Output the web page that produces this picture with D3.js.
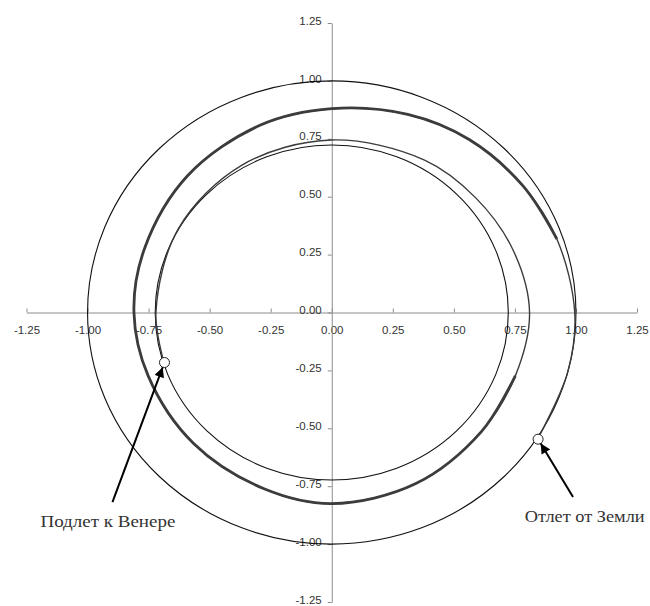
<!DOCTYPE html>
<html><head><meta charset="utf-8">
<script src="https://cdn.jsdelivr.net/npm/d3@7"></script>
<style>body{margin:0;background:#fff}svg{display:block}</style>
</head><body>
<svg id="chart" width="650" height="606"></svg>
<script>
// ---- data ----
const axisTicks = [-1.25, -1.00, -0.75, -0.50, -0.25, 0.00, 0.25, 0.50, 0.75, 1.00, 1.25];
const orbitNames = ["Земля", "Венера"];
const orbitRadii = [1.0, 0.723];
// spacecraft trajectory: polar angle (deg, counter-clockwise) and radius (AU)
const spiralAngles = [-33, -15, 0, 19, 35, 53, 70, 90, 110, 135, 160, 180, 200, 225, 250, 270, 295, 320, 340, 360, 380, 400, 420, 450, 480, 510, 540, 557.5];
const spiralRadii  = [1.005, 1.0, 0.995, 0.975, 0.955, 0.935, 0.91, 0.88, 0.86, 0.835, 0.815, 0.81, 0.80, 0.80, 0.81, 0.825, 0.815, 0.80, 0.80, 0.81, 0.79, 0.77, 0.76, 0.745, 0.735, 0.725, 0.72, 0.72];
const eventNames = ["Отлет от Земли", "Подлет к Венере"];
const eventX = [0.845, -0.685];
const eventY = [-0.547, -0.216];
const arrowTailX = [0.988, -0.898];
const arrowTailY = [-0.797, -0.819];
const labelX = [0.79, -1.193];
const labelY = [-0.905, -0.925];

// ---- scales ----
const svg = d3.select("#chart");
const x = d3.scaleLinear().domain([-1.25, 1.25]).range([26.5, 637]);
const y = d3.scaleLinear().domain([-1.25, 1.25]).range([602, 23]);

svg.append("rect").attr("width", 650).attr("height", 606).attr("fill", "#fff");

// ---- axes ----
const fmt = d => d3.format(".2f")(d).replace("\u2212", "-");
const xAxis = svg.append("g").attr("transform", `translate(0,${y(0)})`)
  .call(d3.axisBottom(x).tickValues(axisTicks).tickFormat(fmt).tickSize(-4).tickSizeOuter(0).tickPadding(13));
const yAxis = svg.append("g").attr("transform", `translate(${x(0)},0)`)
  .call(d3.axisLeft(y).tickValues(axisTicks).tickFormat(fmt).tickSize(4).tickSizeOuter(0).tickPadding(6));
yAxis.selectAll(".tick text").attr("dy", "0.1em");
[xAxis, yAxis].forEach(g => {
  g.select(".domain").attr("stroke", "#8c8c8c");
  g.selectAll(".tick line").attr("stroke", "#8c8c8c");
  g.selectAll(".tick text").attr("fill", "#333")
    .style("font-family", "'Liberation Sans', Arial, sans-serif").style("font-size", "11.5px");
});

// ---- orbits ----
svg.append("g").selectAll("ellipse").data(orbitRadii).join("ellipse")
  .attr("cx", x(0)).attr("cy", y(0))
  .attr("rx", d => x(d) - x(0)).attr("ry", d => y(0) - y(d))
  .attr("fill", "none").attr("stroke", "#111").attr("stroke-width", 1.1);

// ---- trajectory ----
const pts = spiralAngles.map((a, i) => {
  const t = a * Math.PI / 180;
  return [spiralRadii[i] * Math.cos(t), spiralRadii[i] * Math.sin(t), a];
});
const line = d3.line().x(d => x(d[0])).y(d => y(d[1])).curve(d3.curveCatmullRom);
svg.append("path").datum(pts).attr("d", line)
  .attr("fill", "none").attr("stroke", "#3c3c3c").attr("stroke-width", 1.4);
// heavier drawn part of the path
const thick = pts.filter(d => d[2] >= 19 && d[2] <= 340);
svg.append("path").datum(thick).attr("d", line)
  .attr("fill", "none").attr("stroke", "#3c3c3c").attr("stroke-width", 2.8);

// ---- arrows ----
const defs = svg.append("defs");
defs.append("marker").attr("id", "ah").attr("viewBox", "0 0 10 10")
  .attr("refX", 10).attr("refY", 5).attr("markerWidth", 5.5).attr("markerHeight", 5)
  .attr("orient", "auto").attr("markerUnits", "strokeWidth")
  .append("path").attr("d", "M0,0 L10,5 L0,10 z").attr("fill", "#000");

eventNames.forEach((n, i) => {
  const x1 = x(arrowTailX[i]), y1 = y(arrowTailY[i]);
  const cx = x(eventX[i]), cy = y(eventY[i]);
  const dx = cx - x1, dy = cy - y1, L = Math.hypot(dx, dy);
  const x2 = cx - dx / L * 5, y2 = cy - dy / L * 5;
  svg.append("line").attr("x1", x1).attr("y1", y1).attr("x2", x2).attr("y2", y2)
    .attr("stroke", "#000").attr("stroke-width", 2).attr("marker-end", "url(#ah)");
});

// ---- event markers ----
svg.append("g").selectAll("circle").data(eventNames).join("circle")
  .attr("cx", (d, i) => x(eventX[i])).attr("cy", (d, i) => y(eventY[i]))
  .attr("r", 5).attr("fill", "#fff").attr("stroke", "#222").attr("stroke-width", 1);

// ---- labels ----
const labelWidths = [120, 135];
svg.append("g").selectAll("text").data(eventNames).join("text")
  .attr("x", (d, i) => x(labelX[i])).attr("y", (d, i) => y(labelY[i]))
  .attr("textLength", (d, i) => labelWidths[i]).attr("lengthAdjust", "spacingAndGlyphs")
  .attr("fill", "#333")
  .style("font-family", "'Liberation Serif', 'Times New Roman', serif").style("font-size", "16px")
  .text(d => d);
</script>
</body></html>
